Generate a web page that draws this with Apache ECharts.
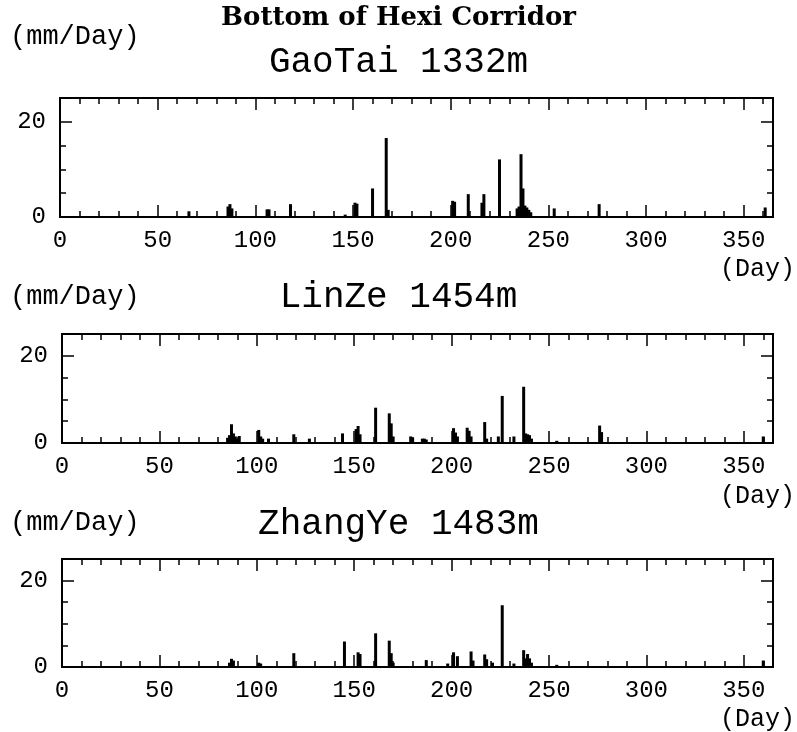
<!DOCTYPE html>
<html>
<head>
<meta charset="utf-8">
<script src="https://cdn.jsdelivr.net/npm/echarts@6/dist/echarts.min.js"></script>
<style>
  html, body { margin: 0; padding: 0; background: #fff; }
  #chart { width: 797px; height: 732px; }
</style>
</head>
<body>
<div id="chart"></div>
<script>
// Daily precipitation (mm/Day) by day of year, three stations
const gaoTaiDays = [66, 86, 87, 88, 106, 107, 118, 146, 151, 152, 160, 167, 168, 201, 202, 209, 216, 217, 225, 234, 235, 236, 237, 238, 239, 240, 241, 253, 276, 361];
const gaoTaiRain = [1.2, 2.2, 2.7, 1.8, 1.6, 1.6, 2.7, 0.5, 3.0, 2.8, 6.0, 16.6, 1.5, 3.4, 3.2, 4.8, 3.0, 4.8, 12.1, 1.8, 2.2, 13.2, 6.0, 2.4, 2.0, 1.5, 1.0, 1.8, 2.7, 2.0];

const linZeDays = [85, 86, 87, 88, 89, 90, 91, 101, 102, 103, 106, 119, 127, 144, 151, 152, 153, 161, 168, 169, 170, 179, 180, 185, 186, 187, 201, 202, 203, 208, 209, 210, 217, 218, 224, 226, 232, 237, 238, 239, 240, 241, 254, 276, 277, 360];
const linZeRain = [1.2, 1.8, 4.3, 2.2, 1.5, 1.0, 1.6, 3.0, 1.5, 1.0, 1.0, 2.0, 1.0, 2.2, 3.2, 3.9, 2.0, 8.1, 6.8, 4.5, 1.5, 1.5, 1.2, 1.0, 1.0, 0.8, 3.4, 2.4, 1.5, 3.5, 2.8, 1.5, 4.8, 1.0, 1.5, 10.8, 1.5, 12.9, 2.2, 2.0, 1.8, 1.0, 0.5, 4.0, 2.5, 1.5];

const zhangYeDays = [86, 87, 88, 101, 102, 119, 145, 152, 153, 161, 168, 169, 170, 187, 198, 201, 203, 210, 211, 217, 218, 221, 226, 232, 237, 238, 239, 240, 241, 254, 360];
const zhangYeRain = [1.0, 1.9, 1.5, 1.0, 0.8, 3.2, 5.9, 3.4, 3.0, 7.8, 6.1, 3.2, 1.0, 1.6, 0.8, 3.4, 2.5, 3.6, 1.5, 2.9, 1.8, 1.0, 14.3, 0.8, 3.9, 2.0, 3.0, 2.0, 1.0, 0.5, 1.5];

const dayLabels = [0, 50, 100, 150, 200, 250, 300, 350];
const rainLabels = [0, 20];

const stationNames = ['GaoTai 1332m', 'LinZe 1454m', 'ZhangYe 1483m'];
const stations = [
  { days: gaoTaiDays, rain: gaoTaiRain },
  { days: linZeDays, rain: linZeRain },
  { days: zhangYeDays, rain: zhangYeRain }
];

const MONO = '"Liberation Mono", "DejaVu Sans Mono", monospace';

// panel frames (pixels)
const panels = [
  { left: 60, top: 98, height: 119, titleY: 63, unitY: 37, dayY: 270 },
  { left: 62, top: 334, height: 109, titleY: 298, unitY: 297, dayY: 497 },
  { left: 62, top: 559, height: 108, titleY: 525, unitY: 523, dayY: 720 }
];

const grids = [], xAxes = [], yAxes = [], series = [], texts = [];

panels.forEach((p, g) => {
  grids.push({
    left: p.left, top: p.top, right: 24, height: p.height,
    show: true, borderColor: '#000', borderWidth: 2, backgroundColor: 'transparent'
  });

  const xBase = {
    gridIndex: g, type: 'value', min: 0, max: 365,
    axisLine: { show: false, onZero: false },
    splitLine: { show: false }
  };
  // bottom: 10-day ticks with labels every 50 days
  xAxes.push(Object.assign({}, xBase, {
    position: 'bottom', interval: 10,
    axisTick: { show: true, inside: true, length: 6, lineStyle: { color: '#000', width: 1.5 } },
    axisLabel: {
      show: true, margin: 12, color: '#000', fontFamily: MONO, fontSize: 24,
      formatter: v => (dayLabels.indexOf(v) >= 0 ? String(v) : ''),
      showMaxLabel: true
    }
  }));
  const barXIndex = xAxes.length - 1;
  // bottom: long 50-day ticks
  xAxes.push(Object.assign({}, xBase, {
    position: 'bottom', interval: 50,
    axisTick: { show: true, inside: true, length: 12, lineStyle: { color: '#000', width: 1.5 } },
    axisLabel: { show: false }
  }));
  // top edge ticks
  xAxes.push(Object.assign({}, xBase, {
    position: 'top', interval: 10,
    axisTick: { show: true, inside: true, length: 6, lineStyle: { color: '#000', width: 1.5 } },
    axisLabel: { show: false }
  }));
  xAxes.push(Object.assign({}, xBase, {
    position: 'top', interval: 50,
    axisTick: { show: true, inside: true, length: 12, lineStyle: { color: '#000', width: 1.5 } },
    axisLabel: { show: false }
  }));

  const yBase = {
    gridIndex: g, type: 'value', min: 0, max: 25,
    axisLine: { show: false, onZero: false },
    splitLine: { show: false }
  };
  yAxes.push(Object.assign({}, yBase, {
    position: 'left', interval: 5,
    axisTick: { show: true, inside: true, length: 6, lineStyle: { color: '#000', width: 1.5 } },
    axisLabel: {
      show: true, margin: 14, color: '#000', fontFamily: MONO, fontSize: 24,
      formatter: v => (rainLabels.indexOf(v) >= 0 ? String(v) : '')
    }
  }));
  const barYIndex = yAxes.length - 1;
  yAxes.push(Object.assign({}, yBase, {
    position: 'left', interval: 20,
    axisTick: { show: true, inside: true, length: 12, lineStyle: { color: '#000', width: 1.5 } },
    axisLabel: { show: false }
  }));
  yAxes.push(Object.assign({}, yBase, {
    position: 'right', interval: 5,
    axisTick: { show: true, inside: true, length: 6, lineStyle: { color: '#000', width: 1.5 } },
    axisLabel: { show: false }
  }));
  yAxes.push(Object.assign({}, yBase, {
    position: 'right', interval: 20,
    axisTick: { show: true, inside: true, length: 12, lineStyle: { color: '#000', width: 1.5 } },
    axisLabel: { show: false }
  }));

  const st = stations[g];
  series.push({
    type: 'bar',
    xAxisIndex: barXIndex, yAxisIndex: barYIndex,
    data: st.days.map((d, i) => [d, st.rain[i]]),
    barWidth: 3,
    itemStyle: { color: '#000' },
    silent: true,
    animation: false
  });

  texts.push({
    type: 'text', left: 10, top: p.unitY - 14,
    style: { text: '(mm/Day)', font: '27px ' + MONO, fill: '#000' }
  });
  texts.push({
    type: 'text', left: 'center', top: p.titleY - 19,
    style: { text: stationNames[g], font: '36px ' + MONO, fill: '#000', textAlign: 'center' }
  });
  texts.push({
    type: 'text', right: 2, top: p.dayY - 13,
    style: { text: '(Day)', font: '25px ' + MONO, fill: '#000' }
  });
});

texts.push({
  type: 'text', left: 'center', top: 5,
  style: { text: 'Bottom of Hexi Corridor', font: 'bold 26px "DejaVu Serif", serif', fill: '#000' }
});

const chart = echarts.init(document.getElementById('chart'), null, { renderer: 'canvas' });
chart.setOption({
  animation: false,
  backgroundColor: '#fff',
  grid: grids,
  xAxis: xAxes,
  yAxis: yAxes,
  series: series,
  graphic: texts
});
</script>
</body>
</html>
